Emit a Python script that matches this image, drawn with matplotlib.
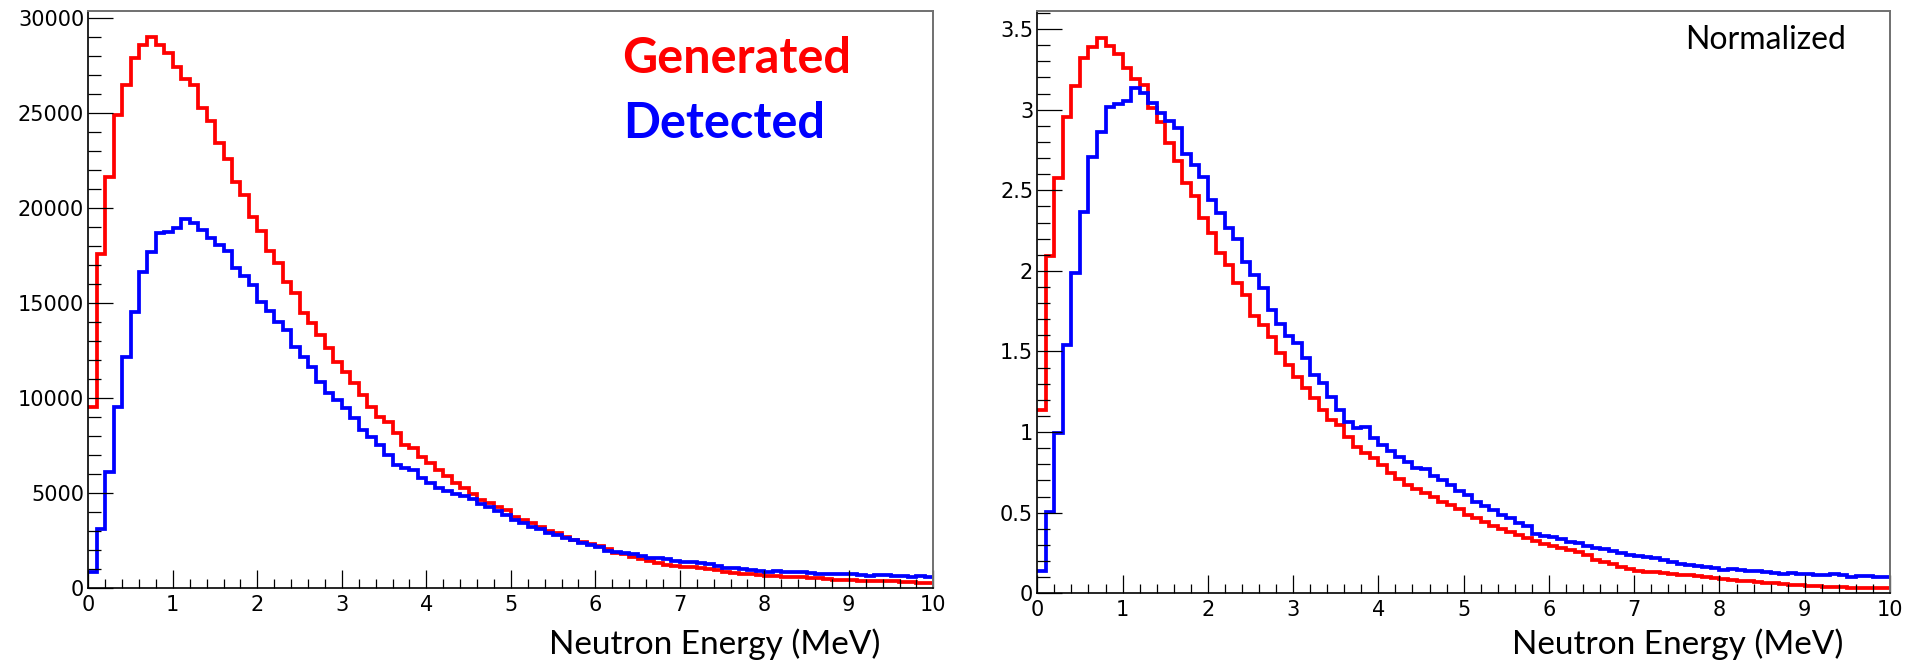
import numpy as np
import matplotlib
matplotlib.use('Agg')
import matplotlib.pyplot as plt
from matplotlib.ticker import MultipleLocator, FuncFormatter

# neutron energy spectra, 100 bins of 0.1 MeV from 0 to 10 MeV
bin_edges = np.round(np.arange(0, 10.05, 0.1), 2)

generated = [9550, 17600, 21650, 24900, 26500, 27900, 28600, 28990, 28600, 28150,
             27450, 26800, 26500, 25300, 24600, 23450, 22570, 21400, 20700, 19560,
             18820, 17770, 17140, 16140, 15520, 14470, 13950, 13330, 12630, 11930,
             11400, 10790, 10170, 9560, 9030, 8770, 8155, 7540, 7370, 6930,
             6580, 6225, 5900, 5550, 5300, 4950, 4650, 4470, 4300, 4120,
             3735, 3595, 3455, 3245, 3015, 2895, 2720, 2545, 2420, 2330,
             2230, 2090, 1875, 1805, 1630, 1525, 1455, 1315, 1230, 1175,
             1130, 1100, 1060, 1040, 960, 880, 820, 770, 730, 700,
             670, 630, 610, 580, 570, 530, 520, 480, 450, 440,
             430, 400, 390, 380, 370, 360, 335, 330, 300, 280]

detected = [880, 3100, 6140, 9560, 12190, 14560, 16660, 17715, 18680, 18770,
            18940, 19420, 19200, 18855, 18420, 18065, 17770, 16840, 16435, 15960,
            15085, 14600, 14030, 13570, 12720, 12190, 11660, 10875, 10260, 9910,
            9470, 8945, 8330, 7980, 7540, 7015, 6490, 6315, 6225, 5790,
            5525, 5300, 5100, 4950, 4850, 4700, 4440, 4260, 4090, 3860,
            3595, 3420, 3245, 3105, 2930, 2805, 2630, 2545, 2370, 2280,
            2160, 1980, 1930, 1840, 1790, 1700, 1615, 1580, 1525, 1455,
            1405, 1400, 1330, 1300, 1175, 1090, 1050, 1000, 965, 930,
            880, 910, 860, 845, 840, 790, 760, 755, 740, 735,
            735, 720, 670, 715, 700, 650, 650, 615, 665, 600]

generated_norm = [1.137, 2.093, 2.574, 2.957, 3.147, 3.319, 3.391, 3.443, 3.395, 3.344,
                  3.257, 3.189, 3.153, 3.009, 2.926, 2.792, 2.684, 2.548, 2.465, 2.326,
                  2.233, 2.113, 2.037, 1.923, 1.851, 1.722, 1.665, 1.588, 1.489, 1.416,
                  1.344, 1.272, 1.210, 1.137, 1.075, 1.044, 0.972, 0.910, 0.868, 0.837,
                  0.796, 0.744, 0.708, 0.670, 0.646, 0.624, 0.596, 0.569, 0.548, 0.521,
                  0.486, 0.465, 0.445, 0.418, 0.397, 0.383, 0.362, 0.341, 0.327, 0.306,
                  0.294, 0.279, 0.269, 0.258, 0.238, 0.207, 0.196, 0.182, 0.165, 0.150,
                  0.140, 0.135, 0.132, 0.128, 0.122, 0.116, 0.112, 0.105, 0.101, 0.097,
                  0.087, 0.081, 0.077, 0.075, 0.070, 0.066, 0.064, 0.060, 0.054, 0.050,
                  0.043, 0.043, 0.039, 0.039, 0.039, 0.035, 0.035, 0.033, 0.031, 0.031]

detected_norm = [0.140, 0.504, 0.993, 1.540, 1.985, 2.368, 2.709, 2.864, 3.019, 3.036,
                 3.056, 3.133, 3.102, 3.044, 2.978, 2.932, 2.885, 2.725, 2.657, 2.585,
                 2.440, 2.357, 2.264, 2.196, 2.057, 1.975, 1.892, 1.758, 1.673, 1.598,
                 1.555, 1.458, 1.354, 1.303, 1.216, 1.137, 1.065, 1.024, 1.034, 0.962,
                 0.920, 0.884, 0.845, 0.817, 0.780, 0.769, 0.728, 0.703, 0.672, 0.637,
                 0.610, 0.569, 0.542, 0.517, 0.486, 0.465, 0.434, 0.418, 0.366, 0.356,
                 0.347, 0.335, 0.321, 0.310, 0.294, 0.283, 0.273, 0.263, 0.252, 0.238,
                 0.232, 0.225, 0.221, 0.209, 0.194, 0.184, 0.178, 0.168, 0.163, 0.157,
                 0.147, 0.153, 0.143, 0.139, 0.137, 0.132, 0.128, 0.122, 0.128, 0.122,
                 0.118, 0.116, 0.112, 0.122, 0.112, 0.101, 0.105, 0.105, 0.101, 0.101]

W, H = 1911, 664
fig = plt.figure(figsize=(W / 100, H / 100), dpi=100)

ax1 = fig.add_axes([88.3 / W, 1 - 588.3 / H, 845 / W, 577.6 / H])
ax2 = fig.add_axes([1037.3 / W, 1 - 593.3 / H, 852.7 / W, 582.6 / H])


def root_style(ax, ymax, ymajor, yminor):
    ax.set_xlim(0, 10)
    ax.set_ylim(0, ymax)
    ax.xaxis.set_major_locator(MultipleLocator(1))
    ax.xaxis.set_minor_locator(MultipleLocator(0.2))
    ax.yaxis.set_major_locator(MultipleLocator(ymajor))
    ax.yaxis.set_minor_locator(MultipleLocator(yminor))
    ax.yaxis.set_major_formatter(FuncFormatter(lambda v, p: '%g' % round(v, 3)))
    ax.xaxis.set_major_formatter(FuncFormatter(lambda v, p: '%g' % round(v, 3)))
    ax.tick_params(axis='both', which='both', direction='in', top=False, right=False,
                   width=0.9, colors='black', labelsize=15)
    ax.tick_params(axis='y', which='major', length=18, pad=3)
    ax.tick_params(axis='y', which='minor', length=9)
    ax.tick_params(axis='x', which='major', length=13, pad=5)
    ax.tick_params(axis='x', which='minor', length=6.5)
    for s in ['left', 'bottom']:
        ax.spines[s].set_color('black')
        ax.spines[s].set_linewidth(1.2)
    for s in ['top', 'right']:
        ax.spines[s].set_color('#707070')
        ax.spines[s].set_linewidth(1.4)


ax1.stairs(generated, bin_edges, color='#ff0000', lw=2.7, baseline=None)
ax1.stairs(detected, bin_edges, color='#0000ff', lw=2.7, baseline=None)
root_style(ax1, 30400, 5000, 1000)

ax2.stairs(generated_norm, bin_edges, color='#ff0000', lw=2.7, baseline=None)
ax2.stairs(detected_norm, bin_edges, color='#0000ff', lw=2.7, baseline=None)
root_style(ax2, 3.614, 0.5, 0.1)

# annotations (PowerPoint-style text)
fig.text(622 / W, 1 - 73 / H, 'Generated', color='#ff0000', fontsize=35,
         fontweight='bold', family='Lato', ha='left', va='baseline')
fig.text(623 / W, 1 - 138 / H, 'Detected', color='#0000ff', fontsize=35,
         fontweight='bold', family='Lato', ha='left', va='baseline')
fig.text(1846 / W, 1 - 49 / H, 'Normalized', color='black', fontsize=23,
         family='Lato', ha='right', va='baseline')

fig.text(880 / W, 1 - 654 / H, 'Neutron Energy (MeV)', color='black', fontsize=24,
         family='Lato', ha='right', va='baseline')
fig.text(1843 / W, 1 - 654 / H, 'Neutron Energy (MeV)', color='black', fontsize=24,
         family='Lato', ha='right', va='baseline')

fig.savefig('out.png', dpi=100)
